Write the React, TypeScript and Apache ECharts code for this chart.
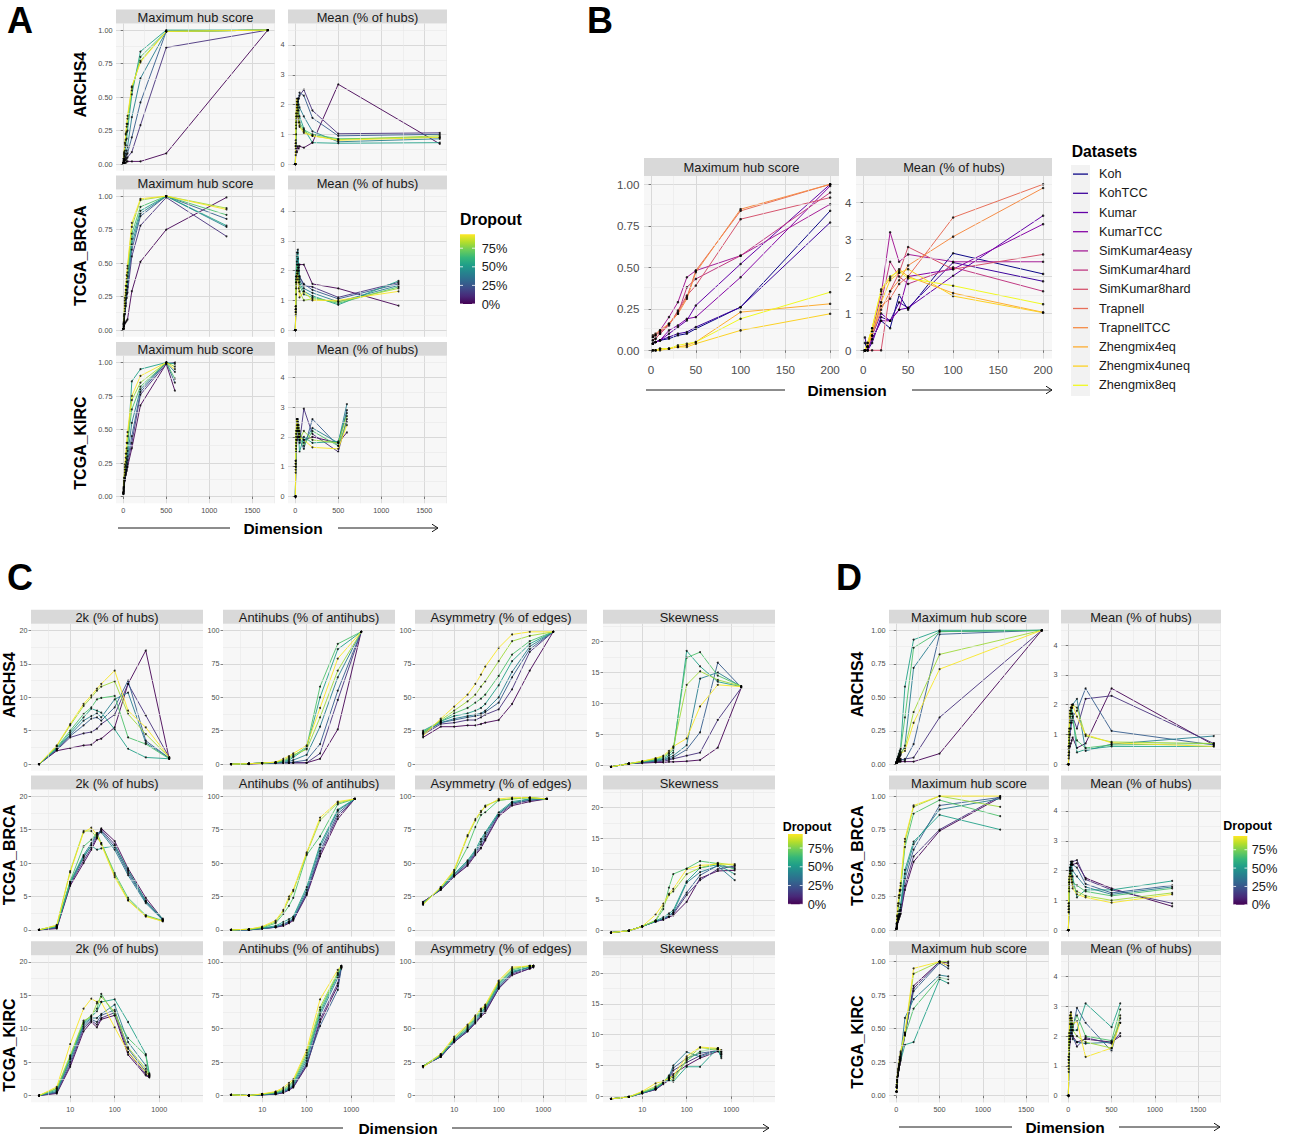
import React, { useEffect, useRef } from "react";
import * as echarts from "echarts";

const FONT = '"Liberation Sans", Arial, Helvetica, sans-serif';

// ---------- shared scales / ticks ----------
const DROPOUT = [0, 0.13, 0.27, 0.4, 0.53, 0.67, 0.8, 0.93];
const DROPOUT_MAX = 0.937;
const DROPOUT_TICKS = [0, 0.25, 0.5, 0.75];

const DIMS_ARCHS4 = [2, 5, 10, 20, 30, 40, 50, 100, 200, 500, 1680];
const DIMS_BRCA = [2, 5, 10, 20, 30, 40, 50, 100, 200, 500, 1200];
const DIMS_KIRC = [2, 5, 10, 20, 30, 40, 50, 100, 200, 500, 600];
const DIMS_B = [2, 5, 10, 20, 30, 40, 50, 100, 200];

const ROWS = ["ARCHS4", "TCGA_BRCA", "TCGA_KIRC"];
const METRICS_AD = ["Maximum hub score", "Mean (% of hubs)"];
const METRICS_C = ["2k (% of hubs)", "Antihubs (% of antihubs)", "Asymmetry (% of edges)", "Skewness"];

const X_LIN_MAJOR = [0, 500, 1000, 1500];
const X_LIN_MINOR = [250, 750, 1250, 1750];
const X_LOG_MINOR = [3.1623, 31.623, 316.23, 3162.3];
const X_B_MAJOR = [0, 50, 100, 150, 200];
const X_B_MINOR = [25, 75, 125, 175];
const Y_MAX_MAJOR = [0, 0.25, 0.5, 0.75, 1];
const Y_MAX_MINOR = [0.125, 0.375, 0.625, 0.875];
const Y_MEAN_MAJOR = [0, 1, 2, 3, 4];
const Y_MEAN_MINOR = [0.5, 1.5, 2.5, 3.5, 4.5];
const Y_20_MAJOR = [0, 5, 10, 15, 20];
const Y_20_MINOR = [2.5, 7.5, 12.5, 17.5, 22.5];
const Y_100_MAJOR = [0, 25, 50, 75, 100];
const Y_100_MINOR = [12.5, 37.5, 62.5, 87.5];

// ---------- Panel B ----------
const DATASETS = ["Koh", "KohTCC", "Kumar", "KumarTCC", "SimKumar4easy", "SimKumar4hard", "SimKumar8hard", "Trapnell", "TrapnellTCC", "Zhengmix4eq", "Zhengmix4uneq", "Zhengmix8eq"];
const PLASMA = ["#0D0887", "#3E049C", "#6300A7", "#8707A6", "#A62098", "#C03A83", "#D5546E", "#E76F5A", "#F58C46", "#FDAD32", "#FCD225", "#F0F921"];
const B_MAX_HUB = [
  [0.04, 0.05, 0.06, 0.07, 0.09, 0.10, 0.13, 0.26, 0.84],
  [0.04, 0.05, 0.06, 0.08, 0.10, 0.11, 0.14, 0.26, 0.77],
  [0.04, 0.05, 0.06, 0.10, 0.14, 0.18, 0.27, 0.52, 1.00],
  [0.04, 0.05, 0.06, 0.12, 0.15, 0.19, 0.20, 0.44, 0.99],
  [0.08, 0.09, 0.12, 0.20, 0.29, 0.44, 0.48, 0.57, 0.88],
  [0.06, 0.07, 0.10, 0.16, 0.22, 0.38, 0.43, 0.57, 0.95],
  [0.06, 0.07, 0.10, 0.15, 0.24, 0.33, 0.39, 0.79, 0.92],
  [0.08, 0.09, 0.11, 0.16, 0.23, 0.32, 0.48, 0.84, 1.00],
  [0.09, 0.10, 0.12, 0.16, 0.22, 0.31, 0.47, 0.85, 1.00],
  [0.00, 0.00, 0.01, 0.01, 0.02, 0.03, 0.05, 0.23, 0.28],
  [0.00, 0.00, 0.00, 0.01, 0.02, 0.02, 0.04, 0.12, 0.22],
  [0.00, 0.00, 0.01, 0.01, 0.03, 0.04, 0.05, 0.19, 0.35],
];
const B_MEAN_HUBS = [
  [0.2, 0.0, 0.3, 0.8, 0.6, 1.5, 1.1, 2.63, 2.07],
  [0.35, 0.0, 0.2, 0.9, 0.8, 1.3, 1.15, 2.38, 1.87],
  [0.0, 0.1, 0.4, 1.0, 0.8, 1.1, 1.15, 2.02, 3.65],
  [0.0, 0.0, 0.3, 0.8, 0.8, 1.1, 2.0, 2.2, 3.42],
  [0.0, 0.1, 0.5, 1.5, 3.2, 2.4, 2.6, 2.4, 2.4],
  [0.0, 0.1, 0.4, 1.3, 2.4, 2.0, 1.8, 2.25, 1.6],
  [0.0, 0.0, 0.0, 0.0, 1.6, 2.1, 2.8, 2.2, 2.6],
  [0.0, 0.1, 0.5, 1.2, 1.4, 1.8, 2.0, 3.6, 4.5],
  [0.0, 0.1, 0.4, 1.1, 1.6, 1.9, 2.3, 3.08, 4.4],
  [0.0, 0.2, 0.6, 1.6, 1.95, 2.2, 2.0, 1.55, 1.03],
  [0.0, 0.1, 0.5, 1.3, 1.9, 2.1, 2.2, 1.47, 1.02],
  [0.0, 0.2, 0.6, 1.65, 2.0, 2.15, 1.95, 1.75, 1.25],
];

// ---------- Panel A (rows of each array = DROPOUT levels) ----------
const A_ARCHS4_MAX = [
  [0.01, 0.01, 0.01, 0.01, 0.01, 0.02, 0.02, 0.02, 0.02, 0.08, 1.0],
  [0.01, 0.01, 0.02, 0.03, 0.03, 0.04, 0.05, 0.09, 0.29, 0.87, 1.0],
  [0.01, 0.02, 0.03, 0.04, 0.05, 0.07, 0.08, 0.2, 0.46, 0.99, 1.0],
  [0.01, 0.02, 0.04, 0.06, 0.08, 0.1, 0.13, 0.35, 0.64, 0.99, 1.0],
  [0.01, 0.03, 0.06, 0.1, 0.14, 0.19, 0.25, 0.52, 0.84, 1.0, 1.0],
  [0.01, 0.03, 0.07, 0.13, 0.18, 0.24, 0.3, 0.55, 0.8, 0.99, 1.0],
  [0.01, 0.04, 0.08, 0.15, 0.22, 0.28, 0.34, 0.57, 0.77, 0.99, 1.0],
  [0.01, 0.04, 0.09, 0.16, 0.23, 0.3, 0.36, 0.58, 0.76, 0.99, 1.0],
];
const A_ARCHS4_MEAN = [
  [0.0, 0.3, 0.5, 0.4, 0.6, 0.5, 0.6, 0.55, 0.72, 2.68, 0.68],
  [0.0, 0.4, 1.0, 1.6, 2.0, 2.2, 2.3, 2.5, 1.8, 1.02, 1.05],
  [0.0, 0.5, 1.2, 1.8, 2.1, 2.2, 2.4, 2.3, 1.55, 0.95, 1.0],
  [0.0, 0.6, 1.3, 1.9, 2.2, 2.0, 1.9, 1.6, 1.1, 0.75, 0.85],
  [0.0, 0.6, 1.4, 2.0, 2.1, 1.8, 1.6, 1.2, 0.72, 0.7, 0.72],
  [0.0, 0.7, 1.5, 2.0, 1.9, 1.6, 1.4, 1.15, 1.0, 0.85, 0.9],
  [0.0, 0.7, 1.6, 2.1, 1.8, 1.5, 1.3, 1.1, 0.95, 0.82, 0.95],
  [0.0, 0.8, 1.7, 2.2, 1.7, 1.4, 1.25, 1.05, 0.95, 0.8, 0.9],
];
const A_BRCA_MAX = [
  [0.01, 0.02, 0.03, 0.05, 0.06, 0.07, 0.08, 0.29, 0.51, 0.75, 0.99],
  [0.01, 0.03, 0.06, 0.12, 0.18, 0.24, 0.28, 0.55, 0.78, 0.99, 0.7],
  [0.01, 0.03, 0.07, 0.14, 0.2, 0.27, 0.32, 0.6, 0.85, 1.0, 0.83],
  [0.01, 0.04, 0.08, 0.16, 0.23, 0.3, 0.36, 0.64, 0.87, 1.0, 0.77],
  [0.01, 0.04, 0.09, 0.18, 0.26, 0.33, 0.4, 0.68, 0.89, 1.0, 0.78],
  [0.01, 0.05, 0.1, 0.2, 0.28, 0.36, 0.43, 0.72, 0.92, 1.0, 0.86],
  [0.01, 0.05, 0.11, 0.22, 0.3, 0.38, 0.46, 0.77, 0.97, 1.0, 0.91],
  [0.01, 0.06, 0.12, 0.24, 0.33, 0.41, 0.48, 0.8, 0.98, 1.0, 0.9],
];
const A_BRCA_MEAN = [
  [0.0, 0.5, 1.2, 1.8, 2.0, 2.1, 2.2, 2.2, 1.55, 1.4, 0.82],
  [0.0, 0.6, 1.4, 2.0, 2.2, 2.0, 1.8, 1.5, 1.45, 1.1, 1.6],
  [0.0, 0.7, 1.6, 2.3, 2.4, 2.1, 1.8, 1.55, 1.35, 1.05, 1.55],
  [0.0, 0.8, 1.8, 2.6, 2.7, 2.2, 1.7, 1.4, 1.25, 0.95, 1.5],
  [0.0, 0.8, 1.8, 2.5, 2.6, 2.0, 1.6, 1.3, 1.15, 0.85, 1.65],
  [0.0, 0.7, 1.7, 2.2, 2.1, 1.8, 1.5, 1.2, 1.1, 0.9, 1.45],
  [0.0, 0.7, 1.6, 2.0, 1.9, 1.6, 1.3, 1.0, 1.05, 0.95, 1.4],
  [0.0, 0.6, 1.5, 1.9, 1.7, 1.4, 1.1, 1.3, 1.0, 1.0, 1.3],
];
const A_KIRC_MAX = [
  [0.02, 0.04, 0.07, 0.12, 0.16, 0.19, 0.22, 0.36, 0.68, 0.99, 0.79],
  [0.02, 0.04, 0.08, 0.13, 0.17, 0.2, 0.24, 0.4, 0.76, 0.99, 1.0],
  [0.02, 0.05, 0.09, 0.14, 0.18, 0.22, 0.27, 0.45, 0.78, 1.0, 0.85],
  [0.02, 0.05, 0.1, 0.16, 0.2, 0.25, 0.3, 0.55, 0.8, 1.0, 0.93],
  [0.03, 0.06, 0.11, 0.18, 0.23, 0.28, 0.34, 0.86, 0.95, 1.0, 0.99],
  [0.03, 0.06, 0.12, 0.2, 0.26, 0.32, 0.4, 0.65, 0.82, 1.0, 0.88],
  [0.03, 0.07, 0.13, 0.22, 0.29, 0.36, 0.45, 0.72, 0.85, 1.0, 0.97],
  [0.03, 0.07, 0.14, 0.24, 0.32, 0.4, 0.48, 0.75, 0.9, 1.0, 0.95],
];
const A_KIRC_MEAN = [
  [0.0, 0.8, 1.5, 1.9, 2.0, 2.2, 2.1, 1.9, 2.0, 1.8, 2.15],
  [0.0, 0.9, 1.6, 2.2, 2.4, 2.1, 1.8, 2.95, 2.1, 1.5, 2.6],
  [0.0, 1.0, 1.7, 2.3, 2.5, 2.2, 1.9, 1.6, 2.6, 1.7, 2.9],
  [0.0, 1.0, 1.8, 2.4, 2.6, 2.0, 2.2, 1.8, 2.3, 1.8, 3.1],
  [0.0, 1.1, 1.9, 2.6, 2.3, 2.0, 1.5, 2.0, 1.8, 1.85, 2.8],
  [0.0, 1.1, 2.0, 2.5, 2.2, 2.4, 2.0, 1.7, 2.2, 1.7, 2.5],
  [0.0, 1.2, 2.1, 2.6, 2.4, 2.2, 1.9, 2.2, 1.9, 1.8, 2.7],
  [0.0, 1.2, 2.2, 2.6, 2.5, 2.3, 2.0, 1.9, 1.65, 1.6, 2.4],
];

// ---------- Panel C ----------
const C_ARCHS4_2K = [
  [0, 2.0, 2.4, 2.8, 2.9, 3.6, 3.8, 5.5, 12.0, 17.0, 0.8],
  [0, 2.1, 4.0, 4.6, 4.8, 5.3, 6.0, 7.4, 12.0, 7.3, 1.0],
  [0, 2.2, 4.2, 5.8, 6.8, 7.0, 6.5, 8.5, 12.5, 3.5, 0.9],
  [0, 2.3, 4.4, 6.5, 7.2, 7.6, 7.0, 9.7, 10.7, 3.2, 0.9],
  [0, 2.4, 4.7, 7.0, 8.3, 8.0, 7.7, 5.2, 2.3, 1.0, 0.8],
  [0, 2.5, 5.0, 7.5, 8.5, 9.7, 9.9, 10.2, 4.0, 3.0, 0.8],
  [0, 2.7, 5.8, 8.7, 10.0, 11.0, 11.6, 12.4, 7.5, 4.5, 1.0],
  [0, 2.8, 6.0, 9.0, 10.3, 11.3, 12.0, 14.0, 8.0, 5.5, 1.0],
];
const C_ARCHS4_ANTI = [
  [0, 0, 0.5, 0.8, 1, 1, 1, 1, 4, 26, 99],
  [0, 0.3, 0.8, 1, 1, 1, 1, 1, 8, 48, 99],
  [0, 0.3, 0.8, 1, 1, 1, 1.5, 3, 15, 55, 99],
  [0, 0.3, 0.8, 1, 1.5, 2, 3, 7, 28, 65, 99],
  [0, 0.3, 0.8, 1.2, 2, 3, 5, 12, 50, 86, 99],
  [0, 0.3, 0.8, 1.2, 2.5, 4, 6, 13, 58, 90, 99],
  [0, 0.3, 0.8, 1.5, 3, 5, 7, 11, 35, 70, 99],
  [0, 0.3, 0.8, 1.5, 4, 6, 8, 14, 42, 79, 99],
];
const C_ARCHS4_ASYM = [
  [20, 28, 28, 29, 29, 30, 31, 33, 45, 70, 99],
  [22, 30, 31, 33, 33, 35, 37, 41, 56, 84, 99],
  [23, 31, 33, 35, 36, 37, 39, 46, 65, 86, 99],
  [24, 31, 34, 36, 37, 38, 40, 50, 69, 88, 99],
  [25, 32, 36, 38, 40, 42, 45, 59, 77, 90, 99],
  [24, 32, 38, 42, 46, 49, 52, 66, 82, 92, 99],
  [23, 33, 40, 47, 52, 58, 62, 77, 92, 96, 99],
  [21, 34, 43, 52, 60, 67, 73, 87, 97, 99, 99],
];
const C_ARCHS4_SKEW = [
  [-0.3, 0.2, 0.3, 0.4, 0.4, 0.5, 0.5, 0.6, 0.8, 2.8, 12.5],
  [-0.3, 0.2, 0.4, 0.5, 0.6, 0.8, 1.0, 1.5, 2.0, 7.3, 12.5],
  [-0.3, 0.2, 0.4, 0.6, 0.8, 1.0, 1.2, 2.5, 5.3, 16.6, 12.6],
  [-0.3, 0.2, 0.5, 0.7, 0.9, 1.2, 1.5, 3.2, 14.0, 15.0, 12.7],
  [-0.3, 0.2, 0.5, 0.8, 1.0, 1.5, 2.0, 18.5, 16.0, 13.5, 12.7],
  [-0.3, 0.2, 0.5, 0.9, 1.2, 1.8, 2.5, 17.4, 18.3, 14.5, 12.8],
  [-0.3, 0.2, 0.6, 1.0, 1.4, 2.0, 2.8, 13.0, 15.2, 13.8, 12.8],
  [-0.3, 0.2, 0.6, 1.1, 1.5, 2.3, 3.0, 4.3, 9.5, 13.0, 12.7],
];
const C_BRCA_2K = [
  [0, 0.2, 6.6, 10.0, 12.0, 13.7, 15.2, 13.3, 9.2, 4.8, 1.6],
  [0, 0.3, 6.8, 10.4, 12.3, 14.0, 15.0, 12.8, 8.8, 4.4, 1.5],
  [0, 0.4, 7.0, 10.8, 12.7, 14.3, 14.8, 12.4, 8.5, 4.2, 1.5],
  [0, 0.5, 7.2, 11.2, 13.0, 14.5, 14.6, 12.0, 8.2, 4.0, 1.5],
  [0, 0.5, 7.0, 11.0, 12.6, 12.0, 12.2, 12.6, 9.0, 4.3, 1.7],
  [0, 0.6, 7.3, 12.5, 13.5, 14.5, 13.0, 8.5, 4.8, 2.2, 1.4],
  [0, 0.7, 8.8, 14.8, 14.8, 13.8, 13.0, 8.2, 4.5, 2.1, 1.3],
  [0, 0.7, 8.6, 14.6, 15.3, 14.2, 12.8, 7.9, 4.4, 2.0, 1.3],
];
const C_BRCA_ANTI = [
  [0, 0, 1, 2, 3, 5, 7, 26, 55, 83, 98],
  [0, 0, 1, 2, 3.5, 5.5, 8, 27, 57, 85, 98],
  [0, 0, 1, 2, 4, 6, 8, 28, 59, 87, 98],
  [0, 0, 1, 2.5, 4.5, 6.5, 9, 30, 62, 89, 98],
  [0, 0.3, 1.5, 3, 6, 8, 10, 32, 64, 90, 98],
  [0, 0.5, 1.5, 5, 12, 18, 24, 56, 70, 94, 98],
  [0, 0.5, 2, 6, 14, 23, 29, 57, 82, 95, 98],
  [0, 0.5, 2.5, 7, 15, 25, 30, 58, 84, 96, 98],
];
const C_BRCA_ASYM = [
  [21, 30, 40, 48, 56, 61, 67, 85, 93, 96, 98],
  [21, 30, 40, 49, 57, 62, 68, 86, 94, 97, 98],
  [20, 31, 41, 50, 58, 64, 70, 87, 95, 97, 98],
  [20, 31, 41, 51, 59, 66, 72, 87, 95, 98, 98],
  [20, 31, 42, 52, 60, 68, 73, 88, 96, 98, 98],
  [20, 31, 43, 62, 77, 86, 88, 97, 98, 99, 98],
  [19, 32, 44, 70, 82, 88, 93, 97, 98, 99, 98],
  [19, 32, 45, 71, 83, 89, 92, 98, 99, 99, 98],
];
const C_BRCA_SKEW = [
  [-0.3, 0, 0.7, 1.5, 1.8, 2.2, 2.5, 4.7, 8.5, 9.7, 9.8],
  [-0.3, 0, 0.7, 1.5, 1.8, 2.3, 2.7, 5.8, 8.2, 10.0, 10.5],
  [-0.3, 0, 0.7, 1.5, 1.9, 2.4, 2.9, 6.2, 9.0, 10.6, 10.2],
  [-0.3, 0, 0.7, 1.5, 2.0, 2.5, 3.0, 7.8, 9.5, 10.5, 8.2],
  [-0.3, 0, 0.7, 1.6, 2.2, 2.8, 3.3, 8.0, 10.2, 10.7, 9.2],
  [-0.3, 0, 0.7, 1.6, 3.5, 7.0, 9.2, 10.1, 11.3, 10.9, 10.0],
  [-0.3, 0, 0.7, 1.7, 4.0, 5.8, 6.4, 9.2, 10.2, 11.0, 10.6],
  [-0.3, 0, 0.7, 2.6, 4.4, 6.0, 6.8, 10.0, 10.6, 10.8, 10.8],
];
const C_KIRC_2K = [
  [0, 0.3, 4.3, 9.6, 11.0, 10.2, 11.4, 12.0, 6.1, 3.0, 2.7],
  [0, 0.4, 4.6, 10.0, 11.2, 10.6, 11.6, 12.4, 6.5, 3.2, 2.8],
  [0, 0.5, 5.0, 10.3, 11.4, 11.0, 12.0, 12.8, 7.0, 3.6, 3.0],
  [0, 0.6, 5.4, 10.6, 11.6, 11.6, 12.2, 13.6, 8.0, 4.5, 3.2],
  [0, 0.8, 5.6, 10.8, 11.8, 12.6, 14.0, 14.4, 11.0, 6.2, 3.3],
  [0, 1.0, 5.8, 11.0, 12.0, 13.0, 15.2, 12.0, 8.6, 6.0, 3.0],
  [0, 1.1, 6.0, 11.2, 11.8, 13.8, 14.8, 12.5, 7.2, 4.0, 3.1],
  [0, 1.3, 7.7, 13.0, 14.5, 14.0, 14.0, 10.2, 6.5, 3.5, 2.9],
];
const C_KIRC_ANTI = [
  [0.5, 0, 0.5, 1, 2, 4, 6, 22, 55, 82, 96],
  [0.5, 0, 0.5, 1, 2.2, 4.3, 6.5, 23, 57, 84, 96],
  [0.5, 0, 0.6, 1.2, 2.5, 4.6, 7, 24, 52, 79, 95],
  [0.5, 0, 0.7, 1.5, 3, 5, 8, 26, 60, 88, 96],
  [0.5, 0, 0.8, 2, 3.5, 6, 9, 28, 62, 90, 96],
  [0.5, 0, 1, 2.2, 4, 7, 10, 30, 64, 91, 97],
  [0.5, 0, 1, 2.5, 5, 8, 11, 32, 66, 92, 97],
  [0.5, 0, 1.2, 3, 6, 9.5, 12, 34, 72, 94, 97],
];
const C_KIRC_ASYM = [
  [22, 29, 40, 48, 54, 59, 62, 80, 90, 95, 96],
  [22, 29, 40, 48, 55, 60, 63, 80, 91, 95, 96],
  [22, 29, 41, 49, 55, 60, 64, 81, 92, 96, 97],
  [22, 30, 41, 49, 56, 61, 65, 82, 92, 96, 97],
  [22, 30, 42, 50, 57, 62, 66, 83, 93, 96, 97],
  [22, 30, 42, 51, 58, 63, 66, 84, 94, 97, 97],
  [22, 31, 43, 52, 59, 64, 67, 85, 95, 97, 97],
  [21, 31, 44, 53, 60, 65, 68, 86, 96, 97, 97],
];
const C_KIRC_SKEW = [
  [-0.4, -0.1, 0.5, 1.1, 2.0, 2.6, 3.6, 5.0, 6.2, 7.3, 6.8],
  [-0.4, -0.1, 0.5, 1.1, 2.1, 2.8, 4.2, 5.5, 6.6, 7.6, 7.2],
  [-0.4, -0.1, 0.5, 1.2, 2.2, 3.0, 4.6, 6.2, 7.0, 7.4, 6.5],
  [-0.4, -0.1, 0.6, 1.2, 2.2, 3.2, 5.0, 7.2, 6.4, 7.5, 7.0],
  [-0.4, -0.1, 0.6, 1.3, 2.3, 2.6, 2.4, 4.8, 4.8, 7.8, 6.2],
  [-0.4, -0.1, 0.6, 1.4, 2.3, 3.4, 3.0, 5.8, 7.3, 7.8, 6.8],
  [-0.4, -0.1, 0.7, 1.6, 2.4, 3.0, 2.6, 6.0, 7.9, 7.6, 7.3],
  [-0.4, -0.1, 0.8, 2.1, 2.5, 2.9, 3.3, 6.5, 8.0, 7.8, 7.5],
];

// ---------- Panel D ----------
const D_ARCHS4_MAX = [
  [0.01, 0.01, 0.01, 0.02, 0.02, 0.02, 0.02, 0.02, 0.02, 0.08, 1.0],
  [0.01, 0.01, 0.02, 0.02, 0.03, 0.03, 0.03, 0.04, 0.05, 0.35, 1.0],
  [0.01, 0.01, 0.02, 0.03, 0.03, 0.04, 0.04, 0.03, 0.15, 0.97, 1.0],
  [0.01, 0.02, 0.03, 0.04, 0.05, 0.06, 0.07, 0.14, 0.72, 0.99, 1.0],
  [0.01, 0.02, 0.04, 0.06, 0.08, 0.1, 0.12, 0.58, 0.93, 1.0, 1.0],
  [0.01, 0.02, 0.03, 0.05, 0.07, 0.09, 0.11, 0.35, 0.87, 0.99, 1.0],
  [0.01, 0.02, 0.03, 0.04, 0.05, 0.07, 0.09, 0.12, 0.39, 0.82, 1.0],
  [0.01, 0.02, 0.03, 0.04, 0.05, 0.06, 0.08, 0.1, 0.31, 0.71, 1.0],
];
const D_ARCHS4_MEAN = [
  [0.0, 0.2, 0.4, 0.6, 0.7, 0.8, 0.9, 0.55, 0.7, 2.55, 0.65],
  [0.0, 0.3, 0.6, 1.0, 1.2, 1.4, 1.6, 1.2, 2.2, 2.3, 0.7],
  [0.0, 0.3, 0.7, 1.2, 1.4, 1.5, 1.6, 1.8, 2.55, 1.12, 0.65],
  [0.0, 0.4, 0.8, 1.4, 1.7, 1.9, 2.0, 2.2, 0.45, 0.68, 0.95],
  [0.0, 0.5, 0.9, 1.5, 1.8, 1.9, 1.7, 0.4, 0.5, 0.6, 0.6],
  [0.0, 0.5, 1.0, 1.6, 1.8, 1.7, 1.5, 0.8, 0.55, 0.65, 0.7],
  [0.0, 0.6, 1.1, 1.7, 1.9, 1.9, 2.0, 1.9, 0.95, 0.75, 0.7],
  [0.0, 0.6, 1.2, 1.8, 1.9, 2.0, 2.0, 1.6, 1.0, 0.72, 0.6],
];
const D_BRCA_MAX = [
  [0.01, 0.02, 0.04, 0.06, 0.08, 0.1, 0.12, 0.3, 0.51, 0.74, 0.99],
  [0.01, 0.02, 0.04, 0.07, 0.09, 0.11, 0.13, 0.33, 0.55, 0.75, 1.0],
  [0.01, 0.02, 0.05, 0.08, 0.1, 0.12, 0.15, 0.38, 0.6, 0.93, 0.99],
  [0.01, 0.03, 0.05, 0.09, 0.11, 0.14, 0.17, 0.42, 0.64, 0.9, 0.98],
  [0.01, 0.03, 0.06, 0.1, 0.12, 0.15, 0.19, 0.45, 0.66, 0.86, 0.75],
  [0.01, 0.04, 0.08, 0.14, 0.2, 0.26, 0.3, 0.62, 0.87, 0.97, 0.85],
  [0.01, 0.05, 0.1, 0.18, 0.24, 0.29, 0.33, 0.66, 0.92, 1.0, 0.92],
  [0.01, 0.05, 0.11, 0.2, 0.26, 0.3, 0.35, 0.68, 0.93, 1.0, 1.0],
];
const D_BRCA_MEAN = [
  [0.0, 0.6, 1.3, 1.9, 2.1, 2.2, 2.2, 2.25, 1.75, 1.4, 0.8],
  [0.0, 0.6, 1.4, 2.0, 2.2, 2.3, 2.3, 2.35, 1.7, 1.35, 0.9],
  [0.0, 0.7, 1.5, 2.0, 2.2, 2.25, 2.2, 2.1, 1.55, 1.25, 1.5],
  [0.0, 0.7, 1.5, 2.1, 2.3, 2.2, 2.0, 1.8, 1.45, 1.2, 1.45],
  [0.0, 0.8, 1.6, 2.1, 2.2, 2.0, 1.8, 1.1, 1.35, 1.35, 1.65],
  [0.0, 0.8, 1.6, 2.0, 2.0, 1.8, 1.6, 1.5, 1.3, 1.15, 1.4],
  [0.0, 0.9, 1.7, 2.0, 1.9, 1.7, 1.5, 1.3, 1.15, 1.0, 1.25],
  [0.0, 0.9, 1.8, 1.9, 1.8, 1.6, 1.4, 1.2, 1.1, 0.92, 1.2],
];
const D_KIRC_MAX = [
  [0.03, 0.06, 0.1, 0.15, 0.19, 0.23, 0.27, 0.45, 0.82, 1.0, 0.99],
  [0.03, 0.06, 0.1, 0.15, 0.2, 0.24, 0.28, 0.46, 0.8, 1.0, 0.97],
  [0.03, 0.06, 0.11, 0.16, 0.21, 0.25, 0.29, 0.47, 0.78, 0.99, 0.95],
  [0.03, 0.07, 0.11, 0.17, 0.21, 0.26, 0.3, 0.58, 0.72, 0.9, 0.89],
  [0.03, 0.07, 0.12, 0.17, 0.22, 0.27, 0.26, 0.38, 0.4, 0.87, 0.84],
  [0.03, 0.07, 0.12, 0.18, 0.22, 0.27, 0.31, 0.45, 0.65, 0.88, 0.87],
  [0.03, 0.08, 0.13, 0.19, 0.23, 0.28, 0.32, 0.46, 0.91, 1.0, 1.0],
  [0.03, 0.08, 0.14, 0.2, 0.24, 0.29, 0.33, 0.47, 0.95, 1.0, 0.97],
];
const D_KIRC_MEAN = [
  [0.0, 0.8, 1.4, 1.8, 2.0, 2.1, 2.0, 1.8, 1.9, 1.8, 2.0],
  [0.0, 0.9, 1.5, 1.9, 2.1, 2.2, 2.0, 1.65, 1.95, 1.75, 2.1],
  [0.0, 1.0, 1.6, 2.0, 2.3, 2.4, 2.2, 2.95, 2.45, 1.5, 2.6],
  [0.0, 1.1, 1.7, 2.2, 2.4, 2.2, 1.9, 1.8, 1.75, 1.8, 2.45],
  [0.0, 1.2, 1.8, 2.4, 2.6, 2.5, 2.2, 2.2, 3.1, 2.3, 3.1],
  [0.0, 1.2, 1.9, 2.5, 2.7, 2.4, 2.3, 2.7, 2.0, 1.85, 2.9],
  [0.0, 1.3, 2.0, 2.6, 2.8, 2.5, 2.2, 2.0, 1.8, 1.6, 2.7],
  [0.0, 1.3, 2.1, 2.7, 2.8, 2.6, 2.4, 2.5, 1.3, 1.6, 2.45],
];

// ---------- styling ----------
const VIRIDIS = ["#440154", "#482878", "#3E4A89", "#31688E", "#26828E", "#1F9E89", "#35B779", "#6DCD59", "#B4DE2C", "#FDE725"];
const PANEL_BG = "#F7F7F7";
const MAJOR = "#D9D9D9";
const MINOR = "#E7E7E7";
const STRIP = "#D9D9D9";

function hexRgb(h: string) {
  return [parseInt(h.slice(1, 3), 16), parseInt(h.slice(3, 5), 16), parseInt(h.slice(5, 7), 16)];
}
function viridis(t: number) {
  const n = VIRIDIS.length;
  const p = Math.max(0, Math.min(1, t)) * (n - 1);
  const i = Math.min(n - 2, Math.floor(p));
  const f = p - i;
  const a = hexRgb(VIRIDIS[i]);
  const b = hexRgb(VIRIDIS[i + 1]);
  const c = a.map((v, k) => Math.round(v + (b[k] - v) * f));
  return `rgb(${c[0]},${c[1]},${c[2]})`;
}

type AxisSpec = { type: "value" | "log"; min: number; max: number; major: number[]; minor: number[]; fmt: (v: number) => string };

const fmtInt = (v: number) => String(v);
const fmt2 = (v: number) => v.toFixed(2);
const fmtLog = (v: number) => {
  const l = Math.log10(v);
  return Math.abs(l - Math.round(l)) < 1e-6 ? String(Math.round(v)) : "";
};

const AX_LIN: AxisSpec = { type: "value", min: -84, max: 1764, major: X_LIN_MAJOR, minor: X_LIN_MINOR, fmt: fmtInt };
const AX_LOG: AxisSpec = { type: "log", min: 1.318, max: 9661, major: [], minor: X_LOG_MINOR, fmt: fmtLog };
const AX_BX: AxisSpec = { type: "value", min: -7.9, max: 209.9, major: X_B_MAJOR, minor: X_B_MINOR, fmt: fmtInt };
const AY_MAX: AxisSpec = { type: "value", min: -0.05, max: 1.05, major: Y_MAX_MAJOR, minor: Y_MAX_MINOR, fmt: fmt2 };
const AY_MEAN: AxisSpec = { type: "value", min: -0.225, max: 4.725, major: Y_MEAN_MAJOR, minor: Y_MEAN_MINOR, fmt: fmtInt };
const AY_2K: AxisSpec = { type: "value", min: -1, max: 21, major: Y_20_MAJOR, minor: Y_20_MINOR, fmt: fmtInt };
const AY_100: AxisSpec = { type: "value", min: -5, max: 105, major: Y_100_MAJOR, minor: Y_100_MINOR, fmt: fmtInt };
const AY_SKEW: AxisSpec = { type: "value", min: -0.95, max: 22.9, major: Y_20_MAJOR, minor: Y_20_MINOR, fmt: fmtInt };

type Line = { name?: string; color: string; xs: number[]; ys: number[] };
type Facet = {
  left: number; top: number; width: number; stripH: number; height: number; strip: string;
  x: AxisSpec; y: AxisSpec; showX: boolean; lines: Line[];
  tickFont: number; margin: number; lw: number; ps: number;
};

function buildOption() {
  const grids: any[] = [];
  const xAxes: any[] = [];
  const yAxes: any[] = [];
  const series: any[] = [];
  const g: any[] = [];

  const makeAxis = (s: AxisSpec, gi: number, show: boolean, f: Facet, dim: "x" | "y") => {
    const isLog = s.type === "log";
    const ax: any = {
      type: s.type, gridIndex: gi, min: s.min, max: s.max,
      position: dim === "x" ? "bottom" : "left",
      axisLine: { show: false },
      axisTick: { show, length: 2.5, lineStyle: { color: "#333333", width: 0.6 } },
      axisLabel: { show, fontSize: f.tickFont, color: "#4D4D4D", fontFamily: FONT, margin: f.margin, formatter: s.fmt },
      splitLine: { show: true, lineStyle: { color: MAJOR, width: 1, type: "solid" } },
      minorTick: { show: false },
      minorSplitLine: { show: false },
    };
    if (isLog) {
      ax.logBase = 10;
      ax.axisLabel.showMinLabel = false;
      ax.axisLabel.showMaxLabel = false;
      ax.splitLine.showMinLine = false;
      ax.splitLine.showMaxLine = false;
    } else {
      ax.axisTick.customValues = s.major;
      ax.axisLabel.customValues = s.major;
    }
    return ax;
  };

  const facet = (f: Facet) => {
    const gi = grids.length;
    grids.push({ left: f.left, top: f.top + f.stripH, width: f.width, height: f.height, show: true, backgroundColor: PANEL_BG, borderWidth: 0, containLabel: false, outerBoundsMode: "none" });
    xAxes.push(makeAxis(f.x, gi, f.showX, f, "x"));
    yAxes.push(makeAxis(f.y, gi, true, f, "y"));
    g.push({ type: "rect", silent: true, shape: { x: f.left, y: f.top, width: f.width, height: f.stripH }, style: { fill: STRIP } });
    g.push({ type: "text", silent: true, x: f.left + f.width / 2, y: f.top + f.stripH / 2 + 0.5, style: { text: f.strip, fontSize: 12.9, fontFamily: FONT, fill: "#1A1A1A", align: "center", verticalAlign: "middle" } });
    const mx = f.x.minor.filter((v) => v > f.x.min && v < f.x.max).map((v) => ({ xAxis: v }));
    const my = f.y.minor.filter((v) => v > f.y.min && v < f.y.max).map((v) => ({ yAxis: v }));
    series.push({
      type: "line", xAxisIndex: gi, yAxisIndex: gi, data: [], silent: true, z: 1,
      markLine: { silent: true, symbol: ["none", "none"], label: { show: false }, emphasis: { disabled: true }, lineStyle: { color: MINOR, width: 0.6, type: "solid" }, data: [...mx, ...my] },
    });
    f.lines.forEach((l) => {
      series.push({
        type: "line", name: l.name, xAxisIndex: gi, yAxisIndex: gi, silent: true, z: 3,
        data: l.xs.map((x, i) => [x, l.ys[i]]),
        symbol: "none", showSymbol: false,
        lineStyle: { color: l.color, width: f.lw },
        itemStyle: { color: l.color },
        emphasis: { disabled: true },
      });
    });
    series.push({
      type: "scatter", xAxisIndex: gi, yAxisIndex: gi, silent: true, z: 4,
      data: f.lines.flatMap((l) => l.xs.map((x, i) => [x, l.ys[i]])),
      symbol: "circle", symbolSize: f.ps, itemStyle: { color: "#000000" },
    });
  };

  const dropoutLines = (vals: number[][], xs: number[]): Line[] =>
    vals.map((ys, k) => ({ color: viridis(DROPOUT[k] / DROPOUT_MAX), xs, ys }));

  const rowDims = [DIMS_ARCHS4, DIMS_BRCA, DIMS_KIRC];

  // ---- Panel A ----
  const A_DATA = [[A_ARCHS4_MAX, A_ARCHS4_MEAN], [A_BRCA_MAX, A_BRCA_MEAN], [A_KIRC_MAX, A_KIRC_MEAN]];
  const aTops = [9.6, 175.6, 342];
  const aLefts = [116, 288];
  A_DATA.forEach((row, r) => {
    row.forEach((vals, c) => {
      facet({
        left: aLefts[c], top: aTops[r], width: 159, stripH: 13.8, height: 147.4, strip: METRICS_AD[c],
        x: AX_LIN, y: c === 0 ? AY_MAX : AY_MEAN, showX: r === 2, lines: dropoutLines(vals, rowDims[r]),
        tickFont: 7.3, margin: 3.5, lw: 0.9, ps: 2,
      });
    });
  });

  // ---- Panel B ----
  const bLefts = [644, 856];
  const bWidths = [195, 196];
  [B_MAX_HUB, B_MEAN_HUBS].forEach((vals, c) => {
    facet({
      left: bLefts[c], top: 158, width: bWidths[c], stripH: 18, height: 182.6, strip: METRICS_AD[c],
      x: AX_BX, y: c === 0 ? AY_MAX : AY_MEAN, showX: true,
      lines: vals.map((ys, k) => ({ name: DATASETS[k], color: PLASMA[k], xs: DIMS_B, ys })),
      tickFont: 11.6, margin: 4.5, lw: 1.0, ps: 2.5,
    });
  });

  // ---- Panel C ----
  const C_DATA = [
    [C_ARCHS4_2K, C_ARCHS4_ANTI, C_ARCHS4_ASYM, C_ARCHS4_SKEW],
    [C_BRCA_2K, C_BRCA_ANTI, C_BRCA_ASYM, C_BRCA_SKEW],
    [C_KIRC_2K, C_KIRC_ANTI, C_KIRC_ASYM, C_KIRC_SKEW],
  ];
  const cdTops = [609.8, 775.6, 941.2];
  const cLefts = [31, 223, 415, 603];
  const cY = [AY_2K, AY_100, AY_100, AY_SKEW];
  C_DATA.forEach((row, r) => {
    row.forEach((vals, c) => {
      facet({
        left: cLefts[c], top: cdTops[r], width: 172, stripH: 14, height: 147, strip: METRICS_C[c],
        x: AX_LOG, y: cY[c], showX: r === 2, lines: dropoutLines(vals, rowDims[r]),
        tickFont: 7.2, margin: 3.5, lw: 0.9, ps: 2,
      });
    });
  });

  // ---- Panel D ----
  const D_DATA = [[D_ARCHS4_MAX, D_ARCHS4_MEAN], [D_BRCA_MAX, D_BRCA_MEAN], [D_KIRC_MAX, D_KIRC_MEAN]];
  const dLefts = [889, 1061];
  D_DATA.forEach((row, r) => {
    row.forEach((vals, c) => {
      facet({
        left: dLefts[c], top: cdTops[r], width: 160, stripH: 13.8, height: 147.4, strip: METRICS_AD[c],
        x: AX_LIN, y: c === 0 ? AY_MAX : AY_MEAN, showX: r === 2, lines: dropoutLines(vals, rowDims[r]),
        tickFont: 7.3, margin: 3.5, lw: 0.9, ps: 2,
      });
    });
  });

  // ---- panel letters ----
  const letter = (t: string, x: number, y: number) =>
    g.push({ type: "text", silent: true, x, y, style: { text: t, fontSize: 36, fontWeight: "bold", fontFamily: FONT, fill: "#000", align: "center", verticalAlign: "middle" } });
  letter("A", 20, 20);
  letter("B", 600, 20);
  letter("C", 20, 577);
  letter("D", 849, 577);

  // ---- row labels ----
  const rowLabel = (t: string, x: number, y: number) =>
    g.push({ type: "text", silent: true, x, y, rotation: Math.PI / 2, style: { text: t, fontSize: 16, fontWeight: "bold", fontFamily: FONT, fill: "#000", align: "center", verticalAlign: "middle" } });
  [84.7, 255.7, 443].forEach((y, r) => rowLabel(ROWS[r], 80, y));
  [685, 855, 1045].forEach((y, r) => rowLabel(ROWS[r], 9, y));
  [684.4, 855.7, 1042].forEach((y, r) => rowLabel(ROWS[r], 857, y));

  // ---- "Dimension" with arrows ----
  const dim = (cx: number, y: number, l1: number, l2: number, r1: number, r2: number) => {
    g.push({ type: "text", silent: true, x: cx, y, style: { text: "Dimension", fontSize: 15.5, fontWeight: "bold", fontFamily: FONT, fill: "#000", align: "center", verticalAlign: "middle" } });
    g.push({ type: "line", silent: true, shape: { x1: l1, y1: y, x2: l2, y2: y }, style: { stroke: "#1A1A1A", lineWidth: 1 } });
    g.push({ type: "line", silent: true, shape: { x1: r1, y1: y, x2: r2, y2: y }, style: { stroke: "#1A1A1A", lineWidth: 1 } });
    g.push({ type: "polyline", silent: true, shape: { points: [[r2 - 6, y - 3.8], [r2, y], [r2 - 6, y + 3.8]] }, style: { stroke: "#1A1A1A", lineWidth: 1, fill: "none" } });
  };
  dim(283, 528, 118, 230, 338, 438);
  dim(847, 390, 646, 785, 912, 1052);
  dim(398, 1128, 40, 343, 452, 769);
  dim(1065, 1127, 899, 1012, 1119, 1220);

  // ---- Dropout colour bars ----
  const colorbar = (x: number, y: number, w: number, h: number, tx: number, ty: number, ts: number, lx: number) => {
    g.push({ type: "text", silent: true, x: tx, y: ty, style: { text: "Dropout", fontSize: ts, fontWeight: "bold", fontFamily: FONT, fill: "#000", align: "left", verticalAlign: "middle" } });
    const n = VIRIDIS.length;
    g.push({
      type: "rect", silent: true, shape: { x, y, width: w, height: h },
      style: { fill: { type: "linear", x: 0, y: 0, x2: 0, y2: 1, colorStops: VIRIDIS.map((_, i) => ({ offset: i / (n - 1), color: VIRIDIS[n - 1 - i] })) } },
    });
    DROPOUT_TICKS.forEach((t) => {
      const yy = y + h - (t / DROPOUT_MAX) * h;
      g.push({ type: "line", silent: true, shape: { x1: x, y1: yy, x2: x + w * 0.2, y2: yy }, style: { stroke: "#FFFFFF", lineWidth: 0.8 } });
      g.push({ type: "line", silent: true, shape: { x1: x + w * 0.8, y1: yy, x2: x + w, y2: yy }, style: { stroke: "#FFFFFF", lineWidth: 0.8 } });
      g.push({ type: "text", silent: true, x: lx, y: yy, style: { text: `${Math.round(t * 100)}%`, fontSize: 12.8, fontFamily: FONT, fill: "#1A1A1A", align: "left", verticalAlign: "middle" } });
    });
  };
  colorbar(460, 234.3, 15, 69.7, 460, 219.5, 15.9, 481.7);
  colorbar(788, 834, 14.7, 70.3, 782.7, 826.5, 12.5, 807.7);
  colorbar(1233.3, 836, 14, 68.8, 1223.3, 825.5, 12.5, 1251.7);

  // ---- Datasets legend (B) ----
  g.push({ type: "text", silent: true, x: 1071.7, y: 151.7, style: { text: "Datasets", fontSize: 15.7, fontWeight: "bold", fontFamily: FONT, fill: "#000", align: "left", verticalAlign: "middle" } });
  g.push({ type: "rect", silent: true, z: -1, shape: { x: 1071, y: 165, width: 19, height: 231 }, style: { fill: "#F2F2F2" } });

  return {
    animation: false,
    backgroundColor: "#FFFFFF",
    textStyle: { fontFamily: FONT },
    grid: grids,
    xAxis: xAxes,
    yAxis: yAxes,
    series,
    legend: {
      show: true, data: DATASETS, orient: "vertical", left: 1073, top: 167.6,
      icon: "rect", itemWidth: 15, itemHeight: 1.3, itemGap: 6.2, selectedMode: false,
      padding: 0,
      textStyle: { fontSize: 12.7, fontFamily: FONT, color: "#1A1A1A", padding: [0, 0, 0, 6] },
    },
    graphic: { elements: g },
  };
}

export default function App() {
  const ref = useRef<HTMLDivElement>(null);
  useEffect(() => {
    document.body.style.margin = "0";
    const chart = echarts.init(ref.current as HTMLDivElement, null, { renderer: "svg" });
    chart.setOption(buildOption() as any);
    return () => chart.dispose();
  }, []);
  return <div ref={ref} style={{ width: 1290, height: 1140 }} />;
}
